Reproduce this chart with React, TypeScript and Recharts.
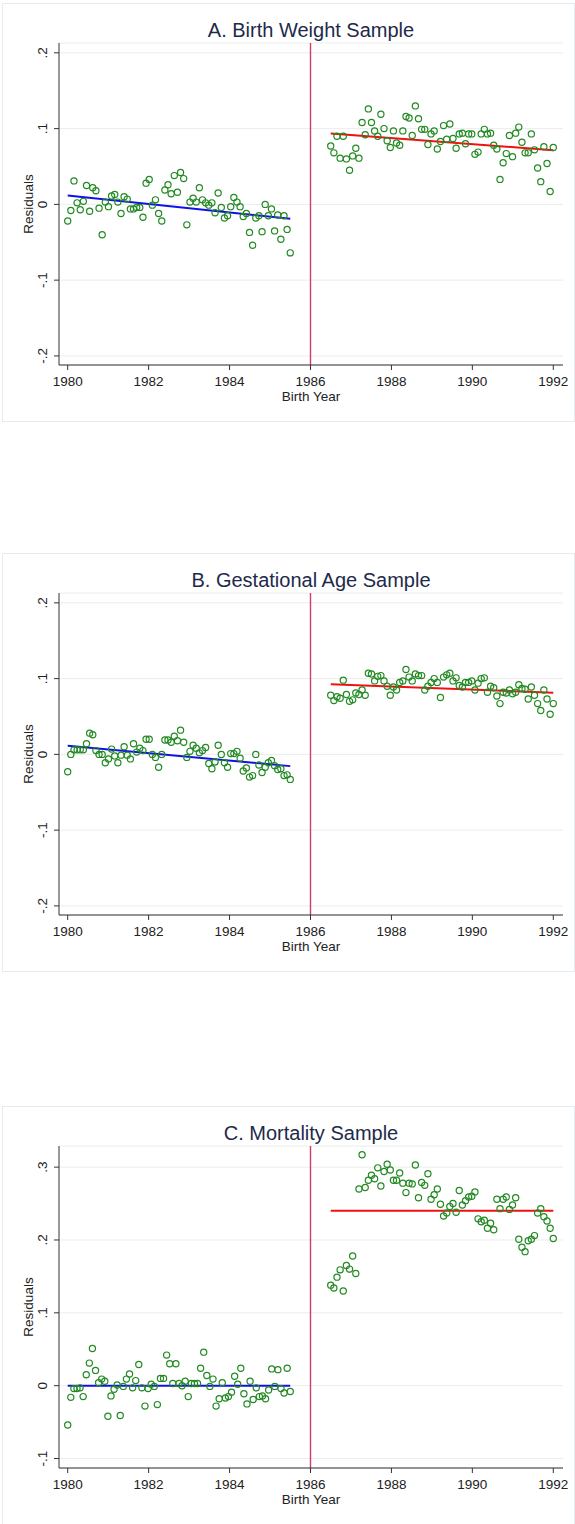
import React from 'react'
import { ComposedChart, Scatter, XAxis, YAxis, CartesianGrid, ReferenceLine } from 'recharts'

// Birth-year axis shared by all three panels
const YEAR_TICKS = [1980, 1982, 1984, 1986, 1988, 1990, 1992]
const CUTOFF = 1986
const LEFT_SPAN: [number, number] = [1980, 1985.5]
const RIGHT_SPAN: [number, number] = [1986.5, 1992]

// A. Birth weight residuals (before / after cutoff)
const bwBefore = [
  -0.022, -0.008, 0.031, 0.002, -0.007, 0.004, 0.025, -0.009, 0.022, 0.018,
  -0.005, -0.04, 0.003, -0.003, 0.011, 0.013, 0.003, -0.012, 0.01, 0.007,
  -0.006, -0.006, -0.004, -0.004, -0.017, 0.028, 0.033, -0.001, 0.006, -0.012,
  -0.022, 0.019, 0.026, 0.014, 0.038, 0.016, 0.042, 0.034, -0.027, 0.003,
  0.008, 0.003, 0.022, 0.006, 0.002, -0.001, 0.002, -0.011, 0.015, -0.004,
  -0.018, -0.015, -0.003, 0.009, 0.003, -0.003, -0.016, -0.012, -0.037, -0.054,
  -0.018, -0.015, -0.036, 0.0, -0.015, -0.006, -0.035, -0.014, -0.046, -0.015,
  -0.033, -0.064,
]
const bwAfter = [
  0.077, 0.068, 0.09, 0.061, 0.09, 0.06, 0.045, 0.064, 0.074, 0.061,
  0.108, 0.092, 0.126, 0.108, 0.097, 0.09, 0.119, 0.1, 0.084, 0.075,
  0.097, 0.081, 0.078, 0.097, 0.116, 0.114, 0.091, 0.13, 0.113, 0.099,
  0.099, 0.079, 0.093, 0.097, 0.073, 0.083, 0.104, 0.086, 0.106, 0.087,
  0.074, 0.093, 0.094, 0.08, 0.093, 0.093, 0.066, 0.069, 0.093, 0.099,
  0.093, 0.094, 0.078, 0.073, 0.033, 0.055, 0.067, 0.091, 0.063, 0.094,
  0.102, 0.082, 0.068, 0.068, 0.093, 0.072, 0.048, 0.03, 0.076, 0.054,
  0.017, 0.075,
]
const bwFitBefore = [0.0118, -0.019]
const bwFitAfter = [0.0934, 0.0715]

// B. Gestational age residuals
const gaBefore = [
  -0.023, 0.0, 0.006, 0.006, 0.006, 0.006, 0.014, 0.028, 0.026, 0.005,
  0.0, 0.0, -0.011, -0.006, 0.007, -0.002, -0.011, -0.001, 0.01, -0.001,
  -0.006, 0.014, 0.003, 0.008, 0.005, 0.02, 0.02, 0.0, -0.004, -0.017,
  0.0, 0.019, 0.019, 0.016, 0.024, 0.018, 0.032, 0.016, -0.004, 0.004,
  0.012, 0.008, 0.002, 0.005, 0.009, -0.012, -0.019, -0.01, 0.012, 0.0,
  -0.011, -0.017, 0.001, 0.001, 0.004, -0.005, -0.022, -0.018, -0.03, -0.028,
  0.0, -0.014, -0.024, -0.017, -0.011, -0.008, -0.015, -0.02, -0.019, -0.028,
  -0.027, -0.033,
]
const gaAfter = [
  0.078, 0.071, 0.076, 0.074, 0.098, 0.079, 0.07, 0.072, 0.081, 0.079,
  0.085, 0.078, 0.107, 0.106, 0.097, 0.103, 0.104, 0.097, 0.09, 0.078,
  0.089, 0.085, 0.095, 0.097, 0.112, 0.102, 0.097, 0.106, 0.104, 0.104,
  0.085, 0.09, 0.095, 0.1, 0.095, 0.075, 0.102, 0.105, 0.107, 0.097,
  0.101, 0.091, 0.089, 0.095, 0.095, 0.097, 0.085, 0.094, 0.1, 0.101,
  0.082, 0.09, 0.088, 0.077, 0.067, 0.082, 0.081, 0.085, 0.08, 0.082,
  0.092, 0.087, 0.086, 0.073, 0.089, 0.078, 0.067, 0.058, 0.085, 0.073,
  0.053, 0.067,
]
const gaFitBefore = [0.0115, -0.0155]
const gaFitAfter = [0.0925, 0.0814]

// C. Mortality residuals
const mortBefore = [
  -0.054, -0.016, -0.004, -0.004, -0.003, -0.015, 0.015, 0.031, 0.051, 0.021,
  0.004, 0.009, 0.006, -0.042, -0.014, -0.005, 0.001, -0.041, -0.001, 0.009,
  0.016, -0.003, 0.007, 0.029, -0.003, -0.028, -0.004, 0.002, -0.001, -0.026,
  0.01, 0.01, 0.042, 0.03, 0.003, 0.03, 0.003, 0.0, 0.006, -0.015,
  0.003, 0.003, 0.003, 0.024, 0.046, 0.014, -0.001, 0.009, -0.028, -0.018,
  0.004, -0.017, -0.015, -0.009, 0.013, 0.002, 0.024, -0.011, -0.025, 0.006,
  -0.019, -0.003, -0.015, -0.014, -0.018, -0.006, 0.023, -0.001, 0.022, -0.004,
  -0.01, 0.024, -0.008,
]
const mortAfter = [
  0.138, 0.134, 0.149, 0.159, 0.13, 0.165, 0.16, 0.178, 0.154, 0.27,
  0.317, 0.272, 0.282, 0.289, 0.284, 0.299, 0.274, 0.294, 0.304, 0.296,
  0.282, 0.282, 0.292, 0.278, 0.265, 0.278, 0.277, 0.303, 0.258, 0.279,
  0.275, 0.291, 0.256, 0.262, 0.27, 0.249, 0.233, 0.237, 0.246, 0.25,
  0.238, 0.268, 0.248, 0.254, 0.259, 0.26, 0.266, 0.229, 0.225, 0.227,
  0.216, 0.223, 0.214, 0.256, 0.243, 0.256, 0.259, 0.242, 0.248, 0.258,
  0.201, 0.19, 0.184, 0.199, 0.201, 0.206, 0.237, 0.243, 0.232, 0.226,
  0.216, 0.202,
]
const mortFitBefore = [0, 0]
const mortFitAfter = [0.2402, 0.2402]

const FONT = '"Liberation Sans", Arial, Helvetica, sans-serif'
const GREEN = '#238a23'
const AXIS = '#333'

// residuals sit on an even grid between the first and last birth month of each side
function toPoints(vals: number[], span: [number, number]) {
  const [a, b] = span
  return vals.map((y, i) => ({ x: a + ((b - a) * i) / (vals.length - 1), y }))
}

function stataNum(v: number) {
  if (v === 0) return '0'
  const s = String(Math.abs(Math.round(v * 10) / 10)).replace(/^0/, '')
  return (v < 0 ? '-' : '') + s
}

function YTick(props: any) {
  const { x, y, payload } = props
  return (
    <text x={x} y={y} transform={`rotate(-90 ${x} ${y})`} textAnchor="middle" fontSize={13.5} fill="#222">
      {stataNum(payload.value)}
    </text>
  )
}

function YTitle() {
  return (
    <text x={32.5} y={204} transform="rotate(-90 32.5 204)" textAnchor="middle" fontSize={13.5} fill="#222">
      Residuals
    </text>
  )
}

function XTitle() {
  return (
    <text x={311} y={401} textAnchor="middle" fontSize={13.5} fill="#222">
      Birth Year
    </text>
  )
}

function Circle(props: any) {
  const { cx, cy } = props
  if (cx == null || cy == null) return null
  return <circle cx={cx} cy={cy} r={3.1} fill="none" stroke={GREEN} strokeWidth={1.2} />
}

interface PanelProps {
  title: string
  top: number
  height: number
  yDomain: [number, number]
  yTicks: number[]
  before: number[]
  after: number[]
  fitBefore: number[]
  fitAfter: number[]
}

function Panel({ title, top, height, yDomain, yTicks, before, after, fitBefore, fitAfter }: PanelProps) {
  const points = [...toPoints(before, LEFT_SPAN), ...toPoints(after, RIGHT_SPAN)]
  return (
    <div style={{ position: 'absolute', left: 0, top, width: 575, height }}>
      <div
        style={{
          position: 'absolute',
          left: 2,
          top: 3,
          width: 571,
          height: 417,
          border: '1px solid #e4ebf1',
        }}
      />
      <div
        style={{
          position: 'absolute',
          left: 59,
          width: 504,
          top: 20,
          fontSize: 20,
          lineHeight: '20px',
          textAlign: 'center',
          color: '#1e2a4a',
          whiteSpace: 'nowrap',
        }}
      >
        {title}
      </div>
      <ComposedChart
        width={575}
        height={height}
        margin={{ top: 43, right: 12, bottom: 0, left: 0 }}
        style={{ position: 'absolute', left: 0, top: 0 }}
      >
        <CartesianGrid vertical={false} stroke="#ececec" />
        <XAxis
          type="number"
          dataKey="x"
          domain={[1979.785, 1992.24]}
          ticks={YEAR_TICKS}
          allowDataOverflow
          height={height - 365}
          tickSize={5}
          tickMargin={6}
          stroke={AXIS}
          tick={{ fontSize: 13.5, fill: '#222' }}
          label={<XTitle />}
        />
        <YAxis
          type="number"
          dataKey="y"
          domain={yDomain}
          ticks={yTicks}
          allowDataOverflow
          width={59}
          tickSize={5}
          tickMargin={7}
          stroke={AXIS}
          tick={<YTick />}
          label={<YTitle />}
        />
        <ReferenceLine x={CUTOFF} stroke="#d23c6b" strokeWidth={1.4} />
        <Scatter data={points} shape={<Circle />} isAnimationActive={false} />
        <ReferenceLine
          segment={[
            { x: LEFT_SPAN[0], y: fitBefore[0] },
            { x: LEFT_SPAN[1], y: fitBefore[1] },
          ]}
          stroke="#1010e8"
          strokeWidth={2}
        />
        <ReferenceLine
          segment={[
            { x: RIGHT_SPAN[0], y: fitAfter[0] },
            { x: RIGHT_SPAN[1], y: fitAfter[1] },
          ]}
          stroke="#f01010"
          strokeWidth={2}
        />
      </ComposedChart>
    </div>
  )
}

export default function App() {
  return (
    <div
      style={{
        position: 'absolute',
        left: 0,
        top: 0,
        width: 575,
        height: 1524,
        background: '#fff',
        fontFamily: FONT,
        overflow: 'hidden',
      }}
    >
      <Panel
        title="A. Birth Weight Sample"
        top={0}
        height={425}
        yDomain={[-0.212, 0.213]}
        yTicks={[-0.2, -0.1, 0, 0.1, 0.2]}
        before={bwBefore}
        after={bwAfter}
        fitBefore={bwFitBefore}
        fitAfter={bwFitAfter}
      />
      <Panel
        title="B. Gestational Age Sample"
        top={550}
        height={425}
        yDomain={[-0.212, 0.213]}
        yTicks={[-0.2, -0.1, 0, 0.1, 0.2]}
        before={gaBefore}
        after={gaAfter}
        fitBefore={gaFitBefore}
        fitAfter={gaFitAfter}
      />
      <Panel
        title="C. Mortality Sample"
        top={1103}
        height={421}
        yDomain={[-0.113, 0.329]}
        yTicks={[-0.1, 0, 0.1, 0.2, 0.3]}
        before={mortBefore}
        after={mortAfter}
        fitBefore={mortFitBefore}
        fitAfter={mortFitAfter}
      />
    </div>
  )
}
